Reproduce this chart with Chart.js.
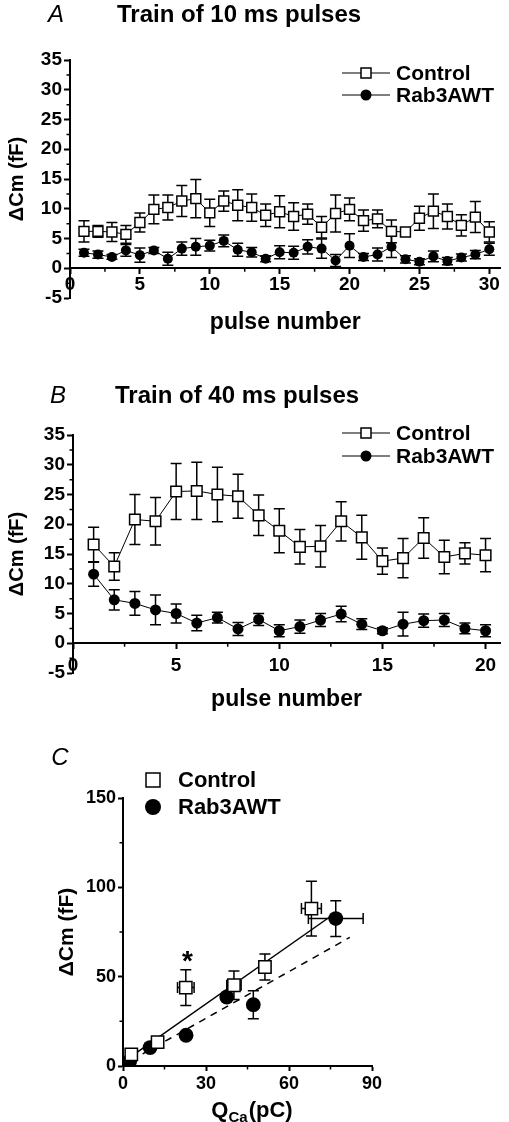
<!DOCTYPE html>
<html>
<head>
<meta charset="utf-8">
<script src="https://cdn.jsdelivr.net/npm/chart.js@4.4.1/dist/chart.umd.min.js"></script>
<style>
  html, body { margin: 0; padding: 0; background: #fff; }
  #hoja { position: relative; width: 509px; height: 1122px; overflow: hidden; background: #fff; }
  canvas { position: absolute; left: 0; }
</style>
</head>
<body>
<div id="hoja">
  <canvas id="graficaA" width="509" height="368" style="top:0px"></canvas>
  <canvas id="graficaB" width="509" height="375" style="top:370px"></canvas>
  <canvas id="graficaC" width="509" height="392" style="top:730px"></canvas>
</div>
<script>
// A: tren de pulsos de 10 ms
const pulsosA = [1, 2, 3, 4, 5, 6, 7, 8, 9, 10, 11, 12, 13, 14, 15, 16, 17, 18, 19, 20, 21, 22, 23, 24, 25, 26, 27, 28, 29, 30];
const controlA = [6.2, 6.2, 6.1, 5.7, 7.7, 9.9, 10.2, 11.3, 11.7, 9.3, 11.3, 10.6, 10.2, 8.9, 9.5, 8.7, 9.1, 6.9, 9.2, 9.9, 8.0, 8.3, 6.2, 6.1, 8.4, 9.6, 8.7, 7.2, 8.6, 6.1];
const controlErrA = [1.8, 1.0, 1.6, 1.5, 1.6, 2.4, 2.1, 2.6, 3.2, 2.3, 1.7, 2.6, 2.3, 1.9, 2.7, 2.3, 1.7, 1.8, 3.1, 1.9, 1.8, 1.5, 1.9, 0.7, 2.0, 2.9, 2.1, 1.8, 2.6, 1.7];
const rabA = [2.6, 2.3, 1.9, 3.0, 2.2, 3.0, 1.6, 3.3, 3.6, 3.8, 4.6, 3.1, 2.7, 1.6, 2.7, 2.6, 3.6, 3.3, 1.3, 3.8, 1.9, 2.3, 3.6, 1.5, 1.1, 2.0, 1.2, 1.8, 2.3, 3.2];
const rabErrA = [0.6, 0.6, 0.4, 1.0, 1.2, 0.5, 1.1, 1.1, 1.4, 0.9, 1.0, 1.1, 0.8, 0.5, 1.1, 1.1, 1.2, 1.6, 1.0, 2.0, 0.6, 1.1, 1.8, 0.6, 0.5, 0.9, 0.6, 0.6, 0.7, 1.0];

// B: tren de pulsos de 40 ms
const pulsosB = [1, 2, 3, 4, 5, 6, 7, 8, 9, 10, 11, 12, 13, 14, 15, 16, 17, 18, 19, 20];
const controlB = [16.6, 12.9, 20.8, 20.5, 25.5, 25.6, 25.0, 24.7, 21.5, 18.9, 16.2, 16.3, 20.5, 17.8, 13.8, 14.3, 17.7, 14.5, 15.1, 14.8];
const controlErrB = [2.9, 2.3, 4.2, 4.0, 4.7, 4.8, 4.6, 3.7, 3.4, 3.7, 2.9, 3.5, 3.3, 3.7, 2.2, 3.3, 3.4, 2.8, 1.8, 2.8];
const rabB = [11.6, 7.3, 6.7, 5.6, 5.0, 3.4, 4.3, 2.4, 4.0, 2.1, 2.8, 3.9, 4.9, 3.2, 2.1, 3.2, 3.8, 3.9, 2.5, 2.1];
const rabErrB = [2.0, 1.7, 2.0, 2.5, 1.6, 1.3, 0.9, 1.1, 1.0, 1.0, 1.1, 1.1, 1.3, 0.9, 0.5, 2.0, 1.1, 1.1, 0.9, 1.0];

// C: ΔCm frente a QCa
const qControl = [3.0, 12.5, 22.7, 40.1, 51.3, 68.1];
const cmControl = [6.5, 13.4, 43.9, 45.2, 55.4, 88.1];
const errCmControl = [2, 2, 10, 8, 7.3, 15.3];
const errQControl = [1.5, 1.5, 3, 2.6, 2, 3.6];
const qRab = [2.4, 9.8, 22.8, 37.5, 47.1, 76.9];
const cmRab = [2.6, 10.3, 17.2, 38.6, 34.3, 82.5];
const errCmRab = [1, 1.5, 1.5, 2, 7.8, 10];
const errQRab = [0.5, 1, 1, 1.5, 1, 9.9];
const rectaSolidaX = [2.6, 74.7];
const rectaSolidaY = [5.0, 83.4];
const rectaDiscX = [3, 82];
const rectaDiscY = [3.2, 72];

// marcas menores de los ejes
const menoresXA = [2.5, 7.5, 12.5, 17.5, 22.5, 27.5];
const menoresXB = [2.5, 7.5, 12.5, 17.5];
const menoresY = [-2.5, 2.5, 7.5, 12.5, 17.5, 22.5, 27.5, 32.5];
const menoresXC = [15, 45, 75];
const menoresYC = [25, 75, 125];

const FUENTE = "'Liberation Sans', Arial, Helvetica, sans-serif";
Chart.defaults.font.family = FUENTE;
Chart.defaults.color = '#000';

function puntos(xs, ys) {
  return xs.map((x, i) => ({ x: x, y: ys[i] }));
}

// barras de error (verticales y horizontales)
const barrasError = {
  id: 'barrasError',
  beforeDatasetsDraw(chart) {
    const ctx = chart.ctx;
    const sx = chart.scales.x, sy = chart.scales.y;
    chart.data.datasets.forEach(ds => {
      if (!ds.errY && !ds.errX) return;
      const cap = ds.cap || 5.5;
      ctx.save();
      ctx.strokeStyle = '#000';
      ctx.lineWidth = 1.5;
      ds.data.forEach((p, j) => {
        const px = sx.getPixelForValue(p.x), py = sy.getPixelForValue(p.y);
        ctx.beginPath();
        if (ds.errY && ds.errY[j]) {
          const arriba = sy.getPixelForValue(p.y + ds.errY[j]);
          const abajo = sy.getPixelForValue(p.y - ds.errY[j]);
          ctx.moveTo(px, arriba); ctx.lineTo(px, abajo);
          ctx.moveTo(px - cap, arriba); ctx.lineTo(px + cap, arriba);
          ctx.moveTo(px - cap, abajo); ctx.lineTo(px + cap, abajo);
        }
        if (ds.errX && ds.errX[j]) {
          const izq = sx.getPixelForValue(p.x - ds.errX[j]);
          const der = sx.getPixelForValue(p.x + ds.errX[j]);
          ctx.moveTo(izq, py); ctx.lineTo(der, py);
          ctx.moveTo(izq, py - cap); ctx.lineTo(izq, py + cap);
          ctx.moveTo(der, py - cap); ctx.lineTo(der, py + cap);
        }
        ctx.stroke();
      });
      ctx.restore();
    });
  }
};

// marcas cortas entre las principales
const marcasMenores = {
  id: 'marcasMenores',
  afterDraw(chart, args, opts) {
    const ctx = chart.ctx;
    const sx = chart.scales.x, sy = chart.scales.y;
    const ejeX = opts.ejeXEn !== undefined ? sy.getPixelForValue(opts.ejeXEn) : chart.chartArea.bottom;
    const ejeY = chart.chartArea.left;
    ctx.save();
    ctx.strokeStyle = '#000';
    ctx.lineWidth = 1.5;
    ctx.beginPath();
    (opts.x || []).forEach(v => {
      const px = sx.getPixelForValue(v);
      ctx.moveTo(px, ejeX); ctx.lineTo(px, ejeX + 3.5);
    });
    (opts.y || []).forEach(v => {
      const py = sy.getPixelForValue(v);
      ctx.moveTo(ejeY, py); ctx.lineTo(ejeY - 3.5, py);
    });
    ctx.stroke();
    ctx.restore();
  }
};

function marcador(ctx, estilo, x, y, r) {
  ctx.save();
  ctx.strokeStyle = '#000';
  ctx.lineWidth = 1.5;
  if (estilo === 'rect') {
    ctx.fillStyle = '#fff';
    ctx.fillRect(x - r, y - r, 2 * r, 2 * r);
    ctx.strokeRect(x - r, y - r, 2 * r, 2 * r);
  } else {
    ctx.fillStyle = '#000';
    ctx.beginPath();
    ctx.arc(x, y, r, 0, Math.PI * 2);
    ctx.fill();
  }
  ctx.restore();
}

// letra del panel, titulo, leyenda y titulo del eje x
const decorado = {
  id: 'decorado',
  afterDraw(chart, args, o) {
    const ctx = chart.ctx;
    ctx.save();
    ctx.fillStyle = '#000';
    ctx.textBaseline = 'middle';
    ctx.textAlign = 'center';
    ctx.font = 'italic 24px ' + FUENTE;
    ctx.fillText(o.letra, o.letraX, o.letraY);
    if (o.titulo) {
      ctx.textAlign = 'left';
      ctx.font = 'bold 24px ' + FUENTE;
      ctx.fillText(o.titulo, o.tituloX, o.letraY);
    }
    if (o.ejeX) {
      ctx.textAlign = 'center';
      ctx.font = 'bold 23px ' + FUENTE;
      ctx.fillText(o.ejeX, (chart.chartArea.left + chart.chartArea.right) / 2, o.ejeXY);
    }
    ctx.font = 'bold ' + (o.tamLeyenda || 21) + 'px ' + FUENTE;
    ctx.textAlign = 'left';
    o.leyenda.forEach(it => {
      if (o.conLinea) {
        ctx.strokeStyle = '#000';
        ctx.lineWidth = 1.2;
        ctx.beginPath();
        ctx.moveTo(o.marcaX - 24, it.y); ctx.lineTo(o.marcaX + 24, it.y);
        ctx.stroke();
      }
      marcador(ctx, it.estilo, o.marcaX, it.y, it.r);
      ctx.fillText(it.texto, o.textoX, it.y + 1);
    });
    ctx.restore();
  }
};

function ejesPulsos(maxX, anchoY, sepEtiquetas) {
  return {
    x: {
      type: 'linear', min: 0, max: maxX, position: { y: 0 },
      ticks: { stepSize: 5, includeBounds: false, autoSkip: false, maxRotation: 0, padding: sepEtiquetas, font: { size: 19, weight: 'bold' } },
      grid: { drawOnChartArea: false, tickLength: 5, tickColor: '#000', tickWidth: 2 },
      border: { color: '#000', width: 2 }
    },
    y: {
      min: -5, max: 35,
      afterFit: s => { s.width = anchoY; },
      ticks: { stepSize: 5, padding: 2, font: { size: 19, weight: 'bold' } },
      grid: { drawOnChartArea: false, tickLength: 6, tickColor: '#000', tickWidth: 2 },
      border: { color: '#000', width: 2 },
      title: { display: true, text: 'ΔCm (fF)', font: { size: 20, weight: 'bold' }, padding: { top: 5, bottom: 0 } }
    }
  };
}

function seriesPulsos(pulsos, control, errControl, rab, errRab, rCuadro, rCirculo) {
  return [
    {
      label: 'Control', data: puntos(pulsos, control), errY: errControl,
      borderColor: '#000', borderWidth: 1, pointStyle: 'rect', pointRadius: rCuadro,
      pointBackgroundColor: '#fff', pointBorderColor: '#000', pointBorderWidth: 1.5
    },
    {
      label: 'Rab3AWT', data: puntos(pulsos, rab), errY: errRab,
      borderColor: '#000', borderWidth: 1, pointStyle: 'circle', pointRadius: rCirculo,
      pointBackgroundColor: '#000', pointBorderColor: '#000', pointBorderWidth: 0
    }
  ];
}

new Chart(document.getElementById('graficaA'), {
  type: 'line',
  data: { datasets: seriesPulsos(pulsosA, controlA, controlErrA, rabA, rabErrA, 7, 5) },
  options: {
    responsive: false, animation: false,
    layout: { padding: { top: 60, left: 0, right: 6, bottom: 70 } },
    plugins: {
      legend: { display: false }, tooltip: { enabled: false },
      marcasMenores: { x: menoresXA, y: menoresY, ejeXEn: 0 },
      decorado: {
        letra: 'A', letraX: 56, letraY: 15, titulo: 'Train of 10 ms pulses', tituloX: 117,
        ejeX: 'pulse number', ejeXY: 323,
        conLinea: true, marcaX: 366, textoX: 396,
        leyenda: [{ texto: 'Control', estilo: 'rect', r: 5, y: 73 }, { texto: 'Rab3AWT', estilo: 'circle', r: 5.5, y: 95 }]
      }
    },
    scales: ejesPulsos(30.8, 70, 0)
  },
  plugins: [barrasError, marcasMenores, decorado]
});

new Chart(document.getElementById('graficaB'), {
  type: 'line',
  data: { datasets: seriesPulsos(pulsosB, controlB, controlErrB, rabB, rabErrB, 7.5, 5.5) },
  options: {
    responsive: false, animation: false,
    layout: { padding: { top: 65, left: 0, right: 6, bottom: 72 } },
    plugins: {
      legend: { display: false }, tooltip: { enabled: false },
      marcasMenores: { x: menoresXB, y: menoresY, ejeXEn: 0 },
      decorado: {
        letra: 'B', letraX: 58, letraY: 26, titulo: 'Train of 40 ms pulses', tituloX: 115,
        ejeX: 'pulse number', ejeXY: 330,
        conLinea: true, marcaX: 366, textoX: 396,
        leyenda: [{ texto: 'Control', estilo: 'rect', r: 5, y: 63 }, { texto: 'Rab3AWT', estilo: 'circle', r: 5.5, y: 86 }]
      }
    },
    scales: ejesPulsos(20.7, 73, 6)
  },
  plugins: [barrasError, marcasMenores, decorado]
});

// asterisco y titulo del eje x con subindice
const extrasC = {
  id: 'extrasC',
  afterDraw(chart) {
    const ctx = chart.ctx;
    const sx = chart.scales.x, sy = chart.scales.y;
    ctx.save();
    ctx.fillStyle = '#000';
    ctx.textAlign = 'center';
    ctx.textBaseline = 'alphabetic';
    ctx.font = 'bold 28px ' + FUENTE;
    ctx.fillText('*', sx.getPixelForValue(23.3), sy.getPixelForValue(62) + 15);
    // Q con subindice Ca
    const grande = 'bold 22px ' + FUENTE, chica = 'bold 15px ' + FUENTE;
    ctx.textAlign = 'left';
    ctx.font = grande; const wQ = ctx.measureText('Q').width; const wP = ctx.measureText('(pC)').width;
    ctx.font = chica; const wC = ctx.measureText('Ca').width;
    const total = wQ + wC + wP;
    const x0 = (chart.chartArea.left + chart.chartArea.right) / 2 + 4 - total / 2;
    const base = 387;
    ctx.font = grande; ctx.fillText('Q', x0, base);
    ctx.font = chica; ctx.fillText('Ca', x0 + wQ, base + 5);
    ctx.font = grande; ctx.fillText('(pC)', x0 + wQ + wC + 1, base);
    ctx.restore();
  }
};

new Chart(document.getElementById('graficaC'), {
  type: 'scatter',
  data: {
    datasets: [
      {
        label: 'Control', data: puntos(qControl, cmControl), errY: errCmControl, errX: errQControl,
        pointStyle: 'rect', pointRadius: 8.7, pointBackgroundColor: '#fff', pointBorderColor: '#000', pointBorderWidth: 1.5
      },
      {
        label: 'Rab3AWT', data: puntos(qRab, cmRab), errY: errCmRab, errX: errQRab,
        pointStyle: 'circle', pointRadius: 7.4, pointBackgroundColor: '#000', pointBorderColor: '#000', pointBorderWidth: 0
      },
      {
        label: 'ajuste control', data: puntos(rectaSolidaX, rectaSolidaY), showLine: true,
        borderColor: '#000', borderWidth: 1.5, pointRadius: 0
      },
      {
        label: 'ajuste Rab3AWT', data: puntos(rectaDiscX, rectaDiscY), showLine: true,
        borderColor: '#000', borderWidth: 1.5, borderDash: [7, 6], pointRadius: 0
      }
    ]
  },
  options: {
    responsive: false, animation: false,
    layout: { padding: { top: 68, left: 50, right: 137, bottom: 0 } },
    plugins: {
      legend: { display: false }, tooltip: { enabled: false },
      marcasMenores: { x: menoresXC, y: menoresYC },
      decorado: {
        letra: 'C', letraX: 60, letraY: 28, conLinea: false, marcaX: 153, textoX: 178, tamLeyenda: 22,
        leyenda: [{ texto: 'Control', estilo: 'rect', r: 7, y: 50 }, { texto: 'Rab3AWT', estilo: 'circle', r: 8, y: 77 }]
      }
    },
    scales: {
      x: {
        type: 'linear', min: 0, max: 90,
        afterFit: s => { s.height = 56; },
        ticks: { stepSize: 30, autoSkip: false, maxRotation: 0, padding: 2, font: { size: 18, weight: 'bold' } },
        grid: { drawOnChartArea: false, tickLength: 5, tickColor: '#000', tickWidth: 2 },
        border: { color: '#000', width: 2 }
      },
      y: {
        min: 0, max: 150,
        afterFit: s => { s.width = 73; },
        ticks: { stepSize: 50, padding: 2, font: { size: 18, weight: 'bold' } },
        grid: { drawOnChartArea: false, tickLength: 5, tickColor: '#000', tickWidth: 2 },
        border: { color: '#000', width: 2 },
        title: { display: true, text: 'ΔCm (fF)', font: { size: 21, weight: 'bold' }, padding: { top: 5, bottom: 0 } }
      }
    }
  },
  plugins: [barrasError, marcasMenores, decorado, extrasC]
});
</script>
</body>
</html>
